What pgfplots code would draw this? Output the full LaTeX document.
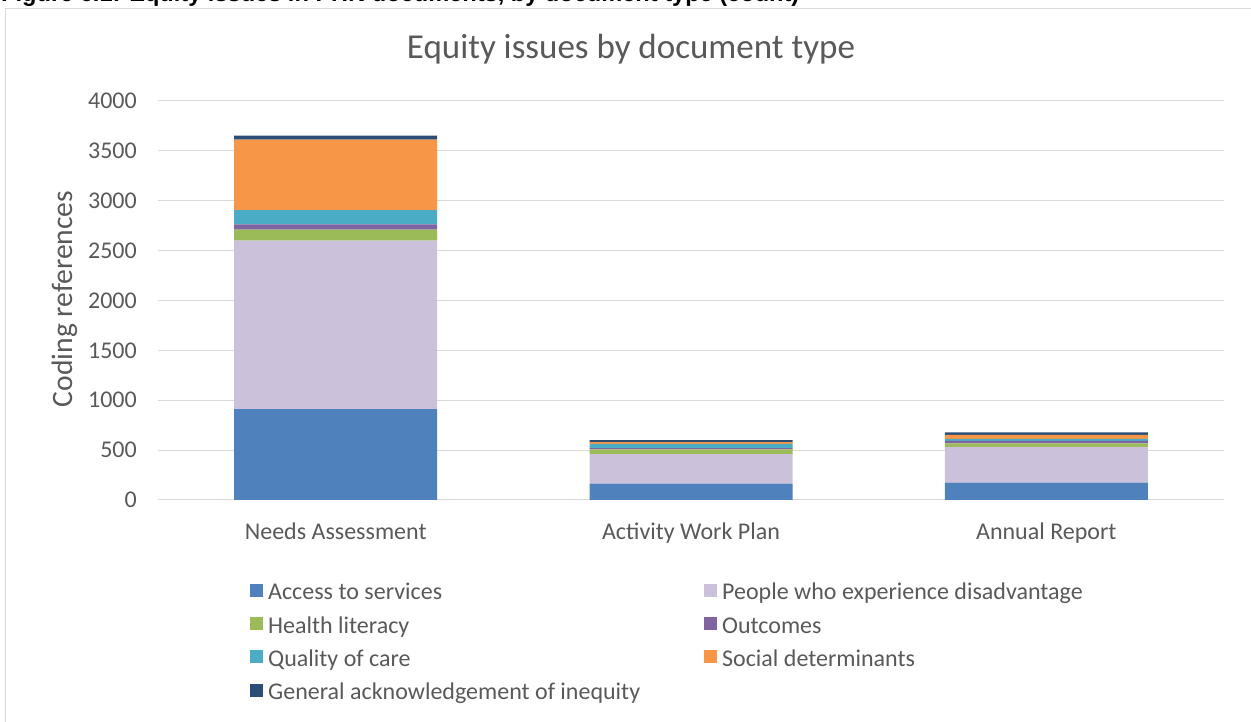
\documentclass[border=0pt]{standalone}
\usepackage{fontspec}
\setmainfont{Carlito}
\newfontfamily\arialfont{Liberation Sans}
\usepackage{pgfplots}
\pgfplotsset{compat=1.18}
\definecolor{txt}{HTML}{595959}
\definecolor{gridc}{HTML}{D9D9D9}
\definecolor{cAccess}{HTML}{4F81BD}
\definecolor{cPeople}{HTML}{CCC1DA}
\definecolor{cHealth}{HTML}{9BBB59}
\definecolor{cOutcomes}{HTML}{8064A2}
\definecolor{cQuality}{HTML}{4BACC6}
\definecolor{cSocial}{HTML}{F79646}
\definecolor{cGeneral}{HTML}{2C4D75}
\begin{document}
\begin{tikzpicture}[x=1pt,y=1pt]
\useasboundingbox (0,0) rectangle (1251,722);
\clip (0,0) rectangle (1251,722);
\node[anchor=base west, inner sep=0pt, font=\arialfont\bfseries\fontsize{23.6}{28}\selectfont] at (1,720) {Figure 6.1: Equity issues in PHN documents, by document type (count)};
\draw[gridc, line width=1pt] (5.5,-20) -- (5.5,713.5) -- (1270,713.5);
\begin{axis}[
  at={(158pt,222pt)}, anchor=south west,
  scale only axis, width=1066pt, height=399pt,
  xmin=-0.5, xmax=2.5, ymin=0, ymax=4000,
  ybar stacked, bar width=203pt,
  axis line style={draw=none},
  major tick length=0pt,
  ytick={0,500,...,4000},
  ymajorgrids, grid style={gridc, line width=1pt},
  xtick={0,1,2},
  xticklabels={Needs Assessment, Activity Work Plan, Annual Report},
  tick label style={font=\fontsize{24}{28}\selectfont, text=txt},
  /pgf/number format/assume math mode=true,
  /pgf/number format/1000 sep={},
  yticklabel style={anchor=east, inner sep=0pt, xshift=-21pt},
  xticklabel style={anchor=base, inner sep=0pt, yshift=-40pt},
  legend columns=2,
  legend cell align=left,
  legend image code/.code={\fill[#1] (0pt,-2.8pt) rectangle (13pt,10.2pt);},
  legend style={at={(axis description cs:0.0863,-0.2073)}, anchor=north west,
    draw=none, fill=none, inner sep=0pt,
    font=\fontsize{24}{28}\selectfont, text=txt,
    nodes={inner sep=0pt, text height=17pt, text depth=5pt},
    row sep=11.3pt,
    /tikz/every odd column/.append style={column sep=5pt},
    /tikz/every even column/.append style={column sep=64pt}},
]
\addplot[fill=cAccess, draw=none] coordinates {(0,910) (1,163) (2,173)};
\addplot[fill=cPeople, draw=none] coordinates {(0,1690) (1,297) (2,360)};
\addplot[fill=cHealth, draw=none] coordinates {(0,110) (1,47) (2,34)};
\addplot[fill=cOutcomes, draw=none] coordinates {(0,53) (1,13) (2,26)};
\addplot[fill=cQuality, draw=none] coordinates {(0,144) (1,43) (2,20)};
\addplot[fill=cSocial, draw=none] coordinates {(0,706) (1,17) (2,40)};
\addplot[fill=cGeneral, draw=none] coordinates {(0,40) (1,20) (2,24)};
\legend{Access to services, People who experience disadvantage, Health literacy, Outcomes, Quality of care, Social determinants, General acknowledgement of inequity}
\end{axis}
\node[anchor=base, inner sep=0pt, font=\fontsize{35}{42}\selectfont, text=txt] at (631,663) {Equity issues by document type};
\node[rotate=90, anchor=base, inner sep=0pt, font=\fontsize{29.6}{34}\selectfont, text=txt] at (72,423) {Coding references};
\end{tikzpicture}
\end{document}
